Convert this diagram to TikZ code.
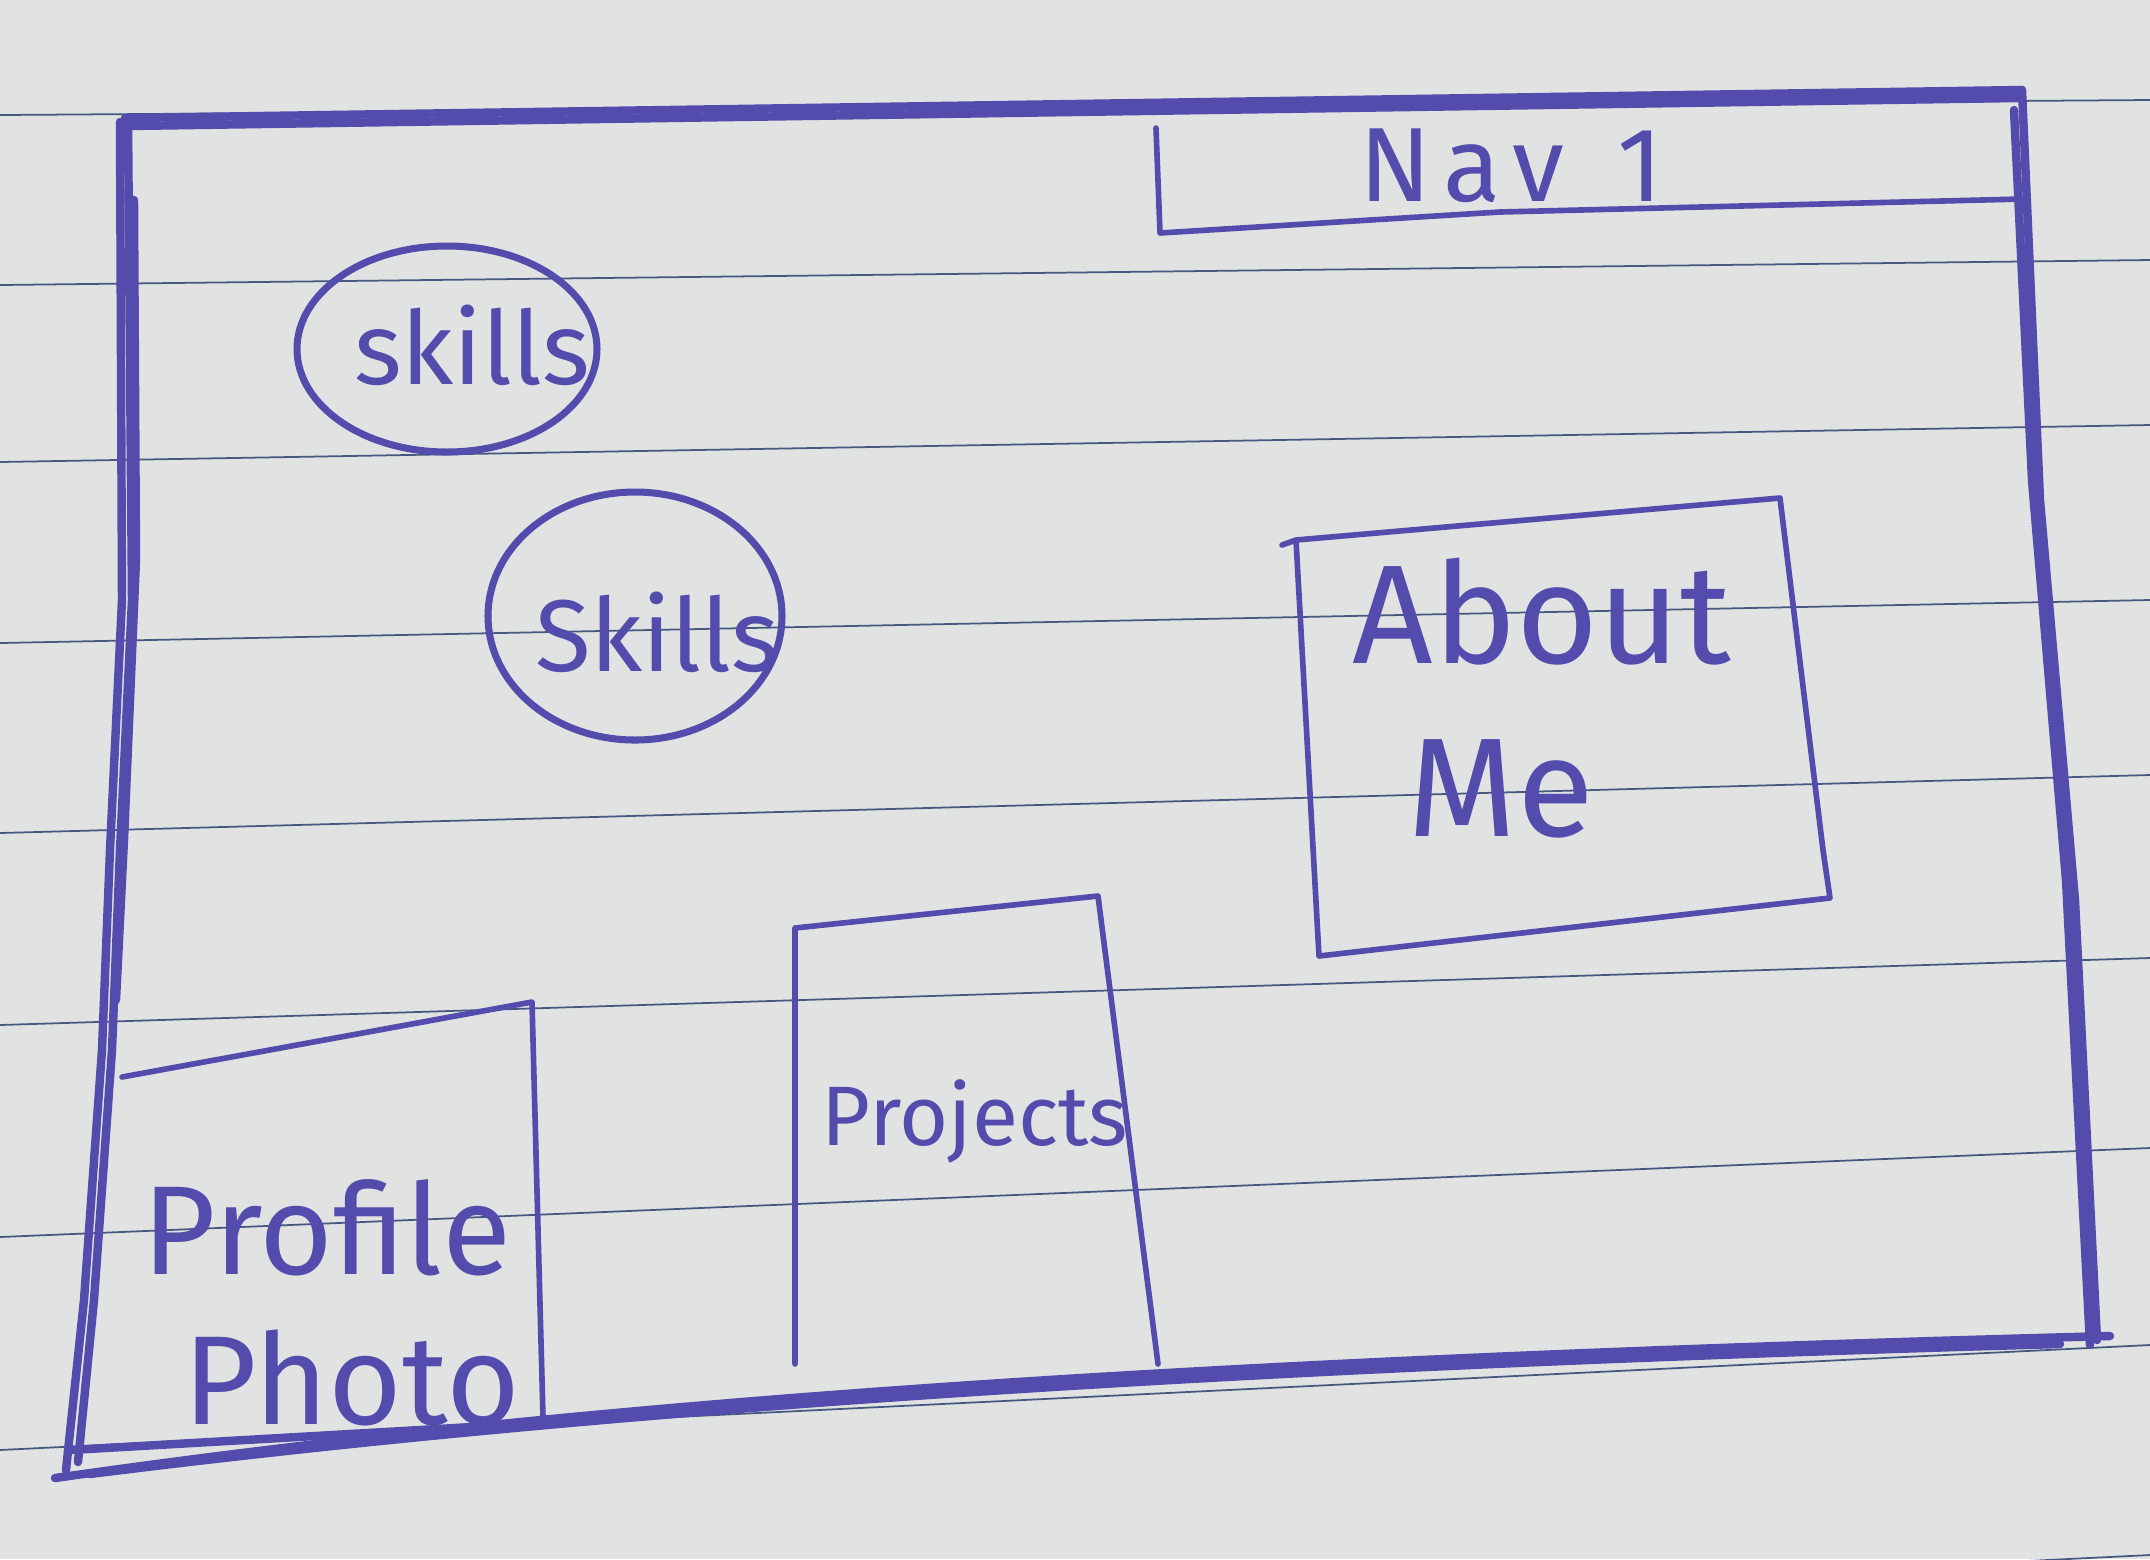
\documentclass[tikz,border=0pt]{standalone}
\usepackage{fontspec}
\setmainfont{Fira Sans}
\usetikzlibrary{positioning}
\definecolor{pen}{RGB}{84, 76, 172}
\definecolor{paper}{RGB}{224, 227, 226}
\definecolor{ruling}{RGB}{70, 88, 128}

\tikzset{
  hand/.style={text=pen, inner sep=0pt},
  frame/.style={draw=pen, line width=2.4pt, line join=round, line cap=round},
  pencil/.style={draw=pen, line width=1.6pt, line join=round, line cap=round},
  bubble/.style={draw=pen, line width=2pt}
}

\begin{document}
\begin{tikzpicture}[x=0.01cm, y=-0.01cm]
        \fill[paper] (0,0) rectangle (2150,1559);
        \useasboundingbox (0,0) rectangle (2150,1559);
        \clip (0,0) rectangle (2150,1559);

        \foreach \l/\r in {115/100, 285/260, 462/425, 643/600, 833/775, 1025/958, 1237/1148, 1450/1345, 1660/1555} {
            \draw[ruling, line width=0.5pt] (0,\l) -- (2150,\r);
        }

        % page frame
        \draw[frame] (125,118) -- (2022,90);
        \draw[frame] (128,126) -- (2018,98);
        \draw[frame] (128,118) -- (132,600) -- (120,850) -- (112,1050) -- (94,1300) -- (78,1462);
        \draw[frame] (120,122) -- (122,600) -- (110,850) -- (102,1050) -- (84,1300) -- (66,1470);
        \draw[frame] (134,200) -- (136,560) -- (124,840) -- (116,1000);
        \draw[frame] (2022,90) -- (2040,500) -- (2075,900) -- (2097,1340);
        \draw[frame] (2014,110) -- (2032,480) -- (2066,880) -- (2090,1345);
        \draw[frame] (2110,1336) .. controls (1200,1360) and (600,1400) .. (55,1478);
        \draw[frame] (2060,1344) .. controls (1200,1368) and (600,1410) .. (90,1474);
        \draw[frame] (70,1450) -- (560,1422);

        % nav bar
        \draw[pencil] (1156,128) -- (1160,233) -- (1500,212) -- (2022,199);
        \node[hand, font=\fontsize{30}{34}\selectfont\addfontfeatures{LetterSpace=12}] (nav) at (1511,166) {Nav\hspace{0.5em}1};

        % skills bubbles
        \draw[bubble] (447,349) ellipse [x radius=150, y radius=103];
        \node[hand, font=\fontsize{29}{32}\selectfont] (skillsA) at (472,345) {skills};
        \draw[bubble] (635,616) ellipse [x radius=147, y radius=124];
        \node[hand, font=\fontsize{29}{32}\selectfont] (skillsB) at (657,632) {Skills};

        % about me
        \draw[pencil] (1282,545) -- (1296,540) -- (1780,498) -- (1823,850) -- (1830,898) -- (1319,956) -- (1296,540);
        \node[hand, font=\fontsize{40}{44}\selectfont] (about) at (1542,612) {About};
        \node[hand, font=\fontsize{40}{44}\selectfont] (me) at (1501,789) {Me};

        % projects
        \draw[pencil] (795,1364) -- (795,928) -- (1098,896) -- (1158,1364);
        \node[hand, font=\fontsize{24}{28}\selectfont] (projects) at (975,1122) {Projects};

        % profile photo
        \draw[pencil] (122,1077) -- (532,1002) -- (543,1417);
        \node[hand, font=\fontsize{36}{40}\selectfont] (profile) at (327,1228) {Profile};
        \node[hand, font=\fontsize{36}{40}\selectfont] (photo) at (352,1378) {Photo};

    \end{tikzpicture}
\end{document}
